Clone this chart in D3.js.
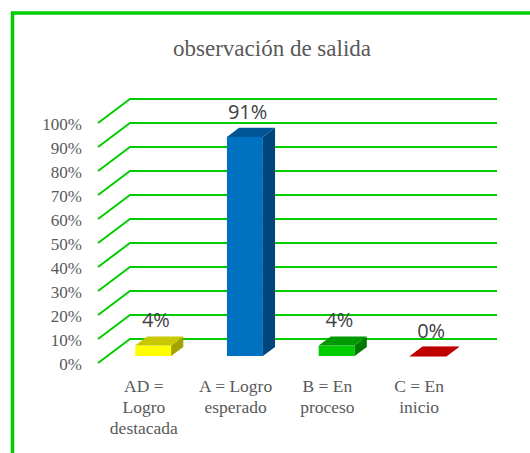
<!DOCTYPE html>
<html>
<head>
<meta charset="utf-8">
<script src="https://cdn.jsdelivr.net/npm/d3@7"></script>
<style>
  body { margin: 0; background: #fff; }
  svg { display: block; }
</style>
</head>
<body>
<svg id="chart" width="530" height="453"></svg>
<script>
const categories = [
  ['AD =', 'Logro', 'destacada'],
  ['A = Logro', 'esperado'],
  ['B = En', 'proceso'],
  ['C = En', 'inicio']
];
const values = [0.0435, 0.913, 0.0435, 0];
const tickValues = [0, 0.1, 0.2, 0.3, 0.4, 0.5, 0.6, 0.7, 0.8, 0.9, 1];

const fronts = ['#ffff00', '#0070c0', '#00cc00', '#c00000'];
const tops = ['#c8c800', '#005596', '#009a00', '#c00000'];
const sides = ['#a3a300', '#00467c', '#007a00', '#c00000'];

const svg = d3.select('#chart');
const green = '#00cc00';

// depth of the 3d box: full depth shift
const DX = 32, DY = -24;
const d1 = 0.29, d2 = 0.67; // bar front/back depth

const x = d3.scaleBand()
  .domain(d3.range(categories.length))
  .range([98, 465])
  .paddingInner(0.608)
  .paddingOuter(0.304);

const y = d3.scaleLinear().domain([0, 1]).range([363, 123]);

// outer frame (only top and left visible)
svg.append('path')
  .attr('d', 'M12.5,453 L12.5,13 L530,13')
  .attr('fill', 'none')
  .attr('stroke', green)
  .attr('stroke-width', 3.5);

// title
svg.append('text')
  .attr('x', 272).attr('y', 56)
  .attr('text-anchor', 'middle')
  .attr('font-family', '"Liberation Serif", "Times New Roman", serif')
  .attr('font-size', 23)
  .attr('fill', '#595959')
  .text('observación de salida');

// gridlines along side wall and back wall
svg.append('g').selectAll('path')
  .data(tickValues)
  .join('path')
  .attr('d', t => `M${x.range()[0]},${y(t)} L${x.range()[0] + DX},${y(t) + DY} L${x.range()[1] + DX},${y(t) + DY}`)
  .attr('fill', 'none')
  .attr('stroke', green)
  .attr('stroke-width', 2);

// y tick labels
svg.append('g').selectAll('text')
  .data(tickValues)
  .join('text')
  .attr('x', 82)
  .attr('y', t => y(t) + 1)
  .attr('dy', '0.35em')
  .attr('text-anchor', 'end')
  .attr('font-family', '"Liberation Serif", "Times New Roman", serif')
  .attr('font-size', 17)
  .attr('fill', '#595959')
  .text(d3.format('.0%'));

// bars
const bars = svg.append('g').selectAll('g')
  .data(values)
  .join('g');

const pt = (px, v, d) => [px + DX * d, y(v) + DY * d];

bars.each(function (v, i) {
  const g = d3.select(this);
  const xl = x(i), xr = x(i) + x.bandwidth();
  const fTL = pt(xl, v, d1), fTR = pt(xr, v, d1);
  const bTL = pt(xl, v, d2), bTR = pt(xr, v, d2);
  const fBR = pt(xr, 0, d1), bBR = pt(xr, 0, d2);
  if (v > 0) {
    g.append('rect')
      .attr('x', fTL[0]).attr('y', fTL[1])
      .attr('width', x.bandwidth())
      .attr('height', y(0) - y(v))
      .attr('fill', fronts[i]);
    g.append('polygon')
      .attr('points', [fTR, bTR, bBR, fBR].join(' '))
      .attr('fill', sides[i]);
  }
  g.append('polygon')
    .attr('points', [fTL, fTR, bTR, bTL].join(' '))
    .attr('fill', tops[i])
    .attr('stroke', v > 0 ? 'none' : tops[i])
    .attr('stroke-width', 1);
});

// value labels
svg.append('g').selectAll('text')
  .data(values)
  .join('text')
  .attr('x', (v, i) => x(i) + x.bandwidth() / 2 + 12)
  .attr('y', v => y(v) + DY * d2 - 16)
  .attr('dy', '0.35em')
  .attr('text-anchor', 'middle')
  .attr('font-family', '"Open Sans", sans-serif')
  .attr('font-size', 20)
  .attr('fill', '#404040')
  .text(d3.format('.0%'));

// category labels
svg.append('g').selectAll('text')
  .data(categories)
  .join('text')
  .attr('text-anchor', 'middle')
  .attr('font-family', '"Liberation Serif", "Times New Roman", serif')
  .attr('font-size', 17.5)
  .attr('fill', '#595959')
  .each(function (lines, i) {
    d3.select(this).selectAll('tspan')
      .data(lines)
      .join('tspan')
      .attr('x', x(i) + x.bandwidth() / 2)
      .attr('y', (l, j) => 392 + j * 21)
      .text(l => l);
  });
</script>
</body>
</html>
